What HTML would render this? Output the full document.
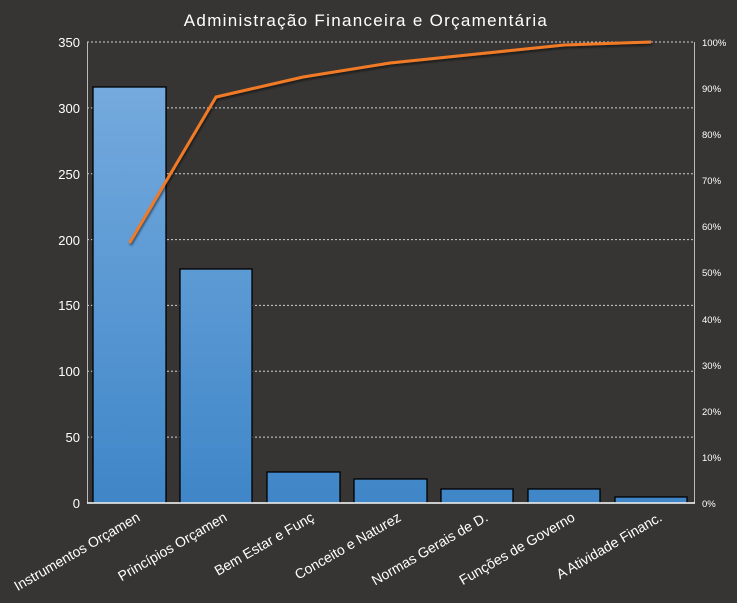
<!DOCTYPE html><html><head><style>body{margin:0;background:#363534}svg{display:block}</style></head><body>
<svg width="737" height="603" xmlns="http://www.w3.org/2000/svg" font-family="Liberation Sans, sans-serif">
<defs><linearGradient id="g" gradientUnits="userSpaceOnUse" x1="0" y1="42" x2="0" y2="503"><stop offset="0" stop-color="#7aaee0"/><stop offset="1" stop-color="#3f86c8"/></linearGradient>
<filter id="s"><feDropShadow dx="1" dy="2" stdDeviation="1" flood-color="#000" flood-opacity="0.5"/></filter></defs>
<rect width="737" height="603" fill="#363534"/>
<text x="366" y="26" fill="#fff" font-size="17" text-anchor="middle" letter-spacing="1.3">Administração  Financeira  e  Orçamentária</text>
<g stroke="#cfcfcf" stroke-width="1" stroke-dasharray="2,2">
<line x1="87" x2="695" y1="42" y2="42"/><line x1="87" x2="695" y1="107.9" y2="107.9"/><line x1="87" x2="695" y1="173.7" y2="173.7"/><line x1="87" x2="695" y1="239.6" y2="239.6"/><line x1="87" x2="695" y1="305.4" y2="305.4"/><line x1="87" x2="695" y1="371.3" y2="371.3"/><line x1="87" x2="695" y1="437.1" y2="437.1"/></g>
<g stroke="#bbb"><line x1="87.5" x2="87.5" y1="42" y2="503"/><line x1="694.5" x2="694.5" y1="42" y2="503"/></g>
<g fill="url(#g)" stroke="#000" stroke-width="1.3">
<rect x="93" y="87" width="73" height="416"/>
<rect x="180" y="269" width="72" height="234"/>
<rect x="267" y="472" width="73" height="31"/>
<rect x="354" y="479" width="73" height="24"/>
<rect x="441" y="489" width="72" height="14"/>
<rect x="528" y="489" width="72" height="14"/>
<rect x="615" y="497" width="72" height="6"/></g>
<line x1="87" x2="695" y1="503" y2="503" stroke="#fff" stroke-width="1.5"/>
<polyline points="129.5,243 216,97 303,77 390,63 477,54 564,45 651,42" fill="none" stroke="#f07a28" stroke-width="3" filter="url(#s)"/>
<g fill="#fff" font-size="13" text-anchor="end">
<text x="80" y="47">350</text><text x="80" y="113">300</text><text x="80" y="179">250</text><text x="80" y="245">200</text><text x="80" y="310">150</text><text x="80" y="376">100</text><text x="80" y="442">50</text><text x="80" y="508">0</text></g>
<g fill="#fff" font-size="9.5">
<text x="702" y="46">100%</text><text x="702" y="92">90%</text><text x="702" y="138">80%</text><text x="702" y="184">70%</text><text x="702" y="230">60%</text><text x="702" y="276">50%</text><text x="702" y="323">40%</text><text x="702" y="369">30%</text><text x="702" y="415">20%</text><text x="702" y="461">10%</text><text x="702" y="507">0%</text></g>
<g fill="#fff" font-size="14" text-anchor="end">
<text transform="translate(141,520) rotate(-30)">Instrumentos Orçamen</text>
<text transform="translate(228,520) rotate(-30)">Princípios Orçamen</text>
<text transform="translate(315,520) rotate(-30)">Bem Estar e Funç</text>
<text transform="translate(402,520) rotate(-30)">Conceito e Naturez</text>
<text transform="translate(489,520) rotate(-30)">Normas Gerais de D.</text>
<text transform="translate(576,520) rotate(-30)">Funções de Governo</text>
<text transform="translate(663,520) rotate(-30)">A Atividade Financ.</text></g>
</svg></body></html>
